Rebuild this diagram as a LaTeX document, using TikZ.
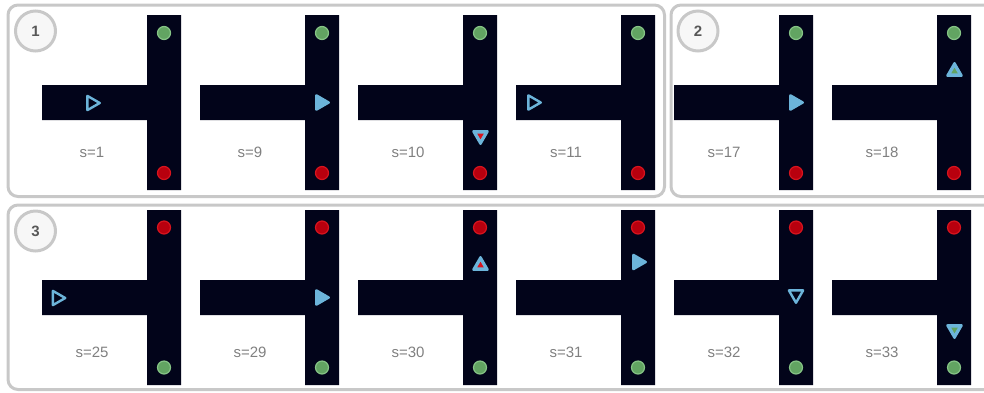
\documentclass[tikz,border=0pt]{standalone}
\usepackage{fontspec}
\setmainfont{Liberation Sans}
\usetikzlibrary{positioning, shapes.geometric}

\definecolor{trackc}{HTML}{02041A}
\definecolor{goalgreen}{HTML}{62A462}
\definecolor{goalgreenl}{HTML}{86C486}
\definecolor{goalred}{HTML}{B8000E}
\definecolor{goalredl}{HTML}{D8141E}
\definecolor{agentblue}{HTML}{6CB4DA}
\definecolor{panelgray}{HTML}{C8C8C8}
\definecolor{labelgray}{HTML}{808080}
\definecolor{badgegray}{HTML}{585858}

\tikzset{
  track/.style={fill=trackc},
  goalg/.style={circle, fill=goalgreen, draw=goalgreenl, line width=1.2pt, minimum size=13pt, inner sep=0pt},
  goalr/.style={circle, fill=goalred, draw=goalredl, line width=1.2pt, minimum size=13pt, inner sep=0pt},
  agent/.style={regular polygon, regular polygon sides=3, minimum size=16.5pt, inner sep=0pt,
    draw=agentblue, line width=2.4pt, line join=round},
  agentmark/.style={regular polygon, regular polygon sides=3, minimum size=7.5pt, inner sep=0pt},
  hollow/.style={fill=trackc},
  solid/.style={fill=agentblue},
  pointright/.style={shape border rotate=-90},
  pointdown/.style={shape border rotate=180},
  steplbl/.style={font=\fontsize{15}{18}\selectfont, text=labelgray},
  panel/.style={draw=panelgray, line width=3pt, rounded corners=10pt},
  badge/.style={circle, draw=panelgray, line width=3pt, fill=white!97!black, minimum size=40pt,
    inner sep=0pt, font=\fontsize{15}{17}\selectfont\bfseries, text=badgegray}
}

\begin{document}
\begin{tikzpicture}[x=1pt, y=-1pt]
    \useasboundingbox (0,0) rectangle (984,392);
    \clip (0,0) rectangle (984,392);

    % panels
    \draw[panel] (8,5) rectangle (664.5,196.5);
    \draw[panel] (671,5) rectangle (1000,196.5);
    \draw[panel] (8,205) rectangle (1000,389.5);

    % top row: goal green above, red below
    \foreach \k/\lbl in {0/1, 1/9, 2/10, 3/11, 4/17, 5/18} {
        \fill[track] (42+158*\k,85) -- (147+158*\k,85) -- (147+158*\k,15) -- (181+158*\k,15)
            -- (181+158*\k,190) -- (147+158*\k,190) -- (147+158*\k,120) -- (42+158*\k,120) -- cycle;
        \node[goalg] (top\lbl) at (164+158*\k,33) {};
        \node[goalr] (bot\lbl) at (164+158*\k,173) {};
        \node[steplbl] (s\lbl) at (92+158*\k,152.5) {s=\lbl};
    }

    % bottom row: red above, green below
    \foreach \k/\lbl in {0/25, 1/29, 2/30, 3/31, 4/32, 5/33} {
        \fill[track] (42+158*\k,280) -- (147+158*\k,280) -- (147+158*\k,210) -- (181+158*\k,210)
            -- (181+158*\k,385) -- (147+158*\k,385) -- (147+158*\k,315) -- (42+158*\k,315) -- cycle;
        \node[goalr] (top\lbl) at (164+158*\k,227.5) {};
        \node[goalg] (bot\lbl) at (164+158*\k,367.5) {};
        \node[steplbl] (s\lbl) at (92+158*\k,352.5) {s=\lbl};
    }

    % agents
    \node[agent, hollow, pointright] (agent1) at (91.5,103) {};
    \node[agent, solid, pointright] (agent9) at (320.5,102.5) {};
    \node[agent, solid, pointdown] (agent10) at (480.5,135.5) {};
    \node[agentmark, pointdown, fill=goalredl] at (agent10.center) {};
    \node[agent, hollow, pointright] (agent11) at (532.5,102.5) {};
    \node[agent, solid, pointright] (agent17) at (794.5,102.5) {};
    \node[agent, solid] (agent18) at (954.5,71.5) {};
    \node[agentmark, fill=goalgreen] at (agent18.center) {};

    \node[agent, hollow, pointright] (agent25) at (57,298) {};
    \node[agent, solid, pointright] (agent29) at (320.5,297.5) {};
    \node[agent, solid] (agent30) at (480.5,265.5) {};
    \node[agentmark, fill=goalredl] at (agent30.center) {};
    \node[agent, solid, pointright] (agent31) at (637.5,262) {};
    \node[agent, hollow, pointdown] (agent32) at (796,294.5) {};
    \node[agent, solid, pointdown] (agent33) at (954.5,329.5) {};
    \node[agentmark, pointdown, fill=goalgreen] at (agent33.center) {};

    % panel numbers
    \node[badge] (badge1) at (35.5,31) {1};
    \node[badge] (badge2) at (698,31) {2};
    \node[badge] (badge3) at (35.5,231) {3};
\end{tikzpicture}
\end{document}
